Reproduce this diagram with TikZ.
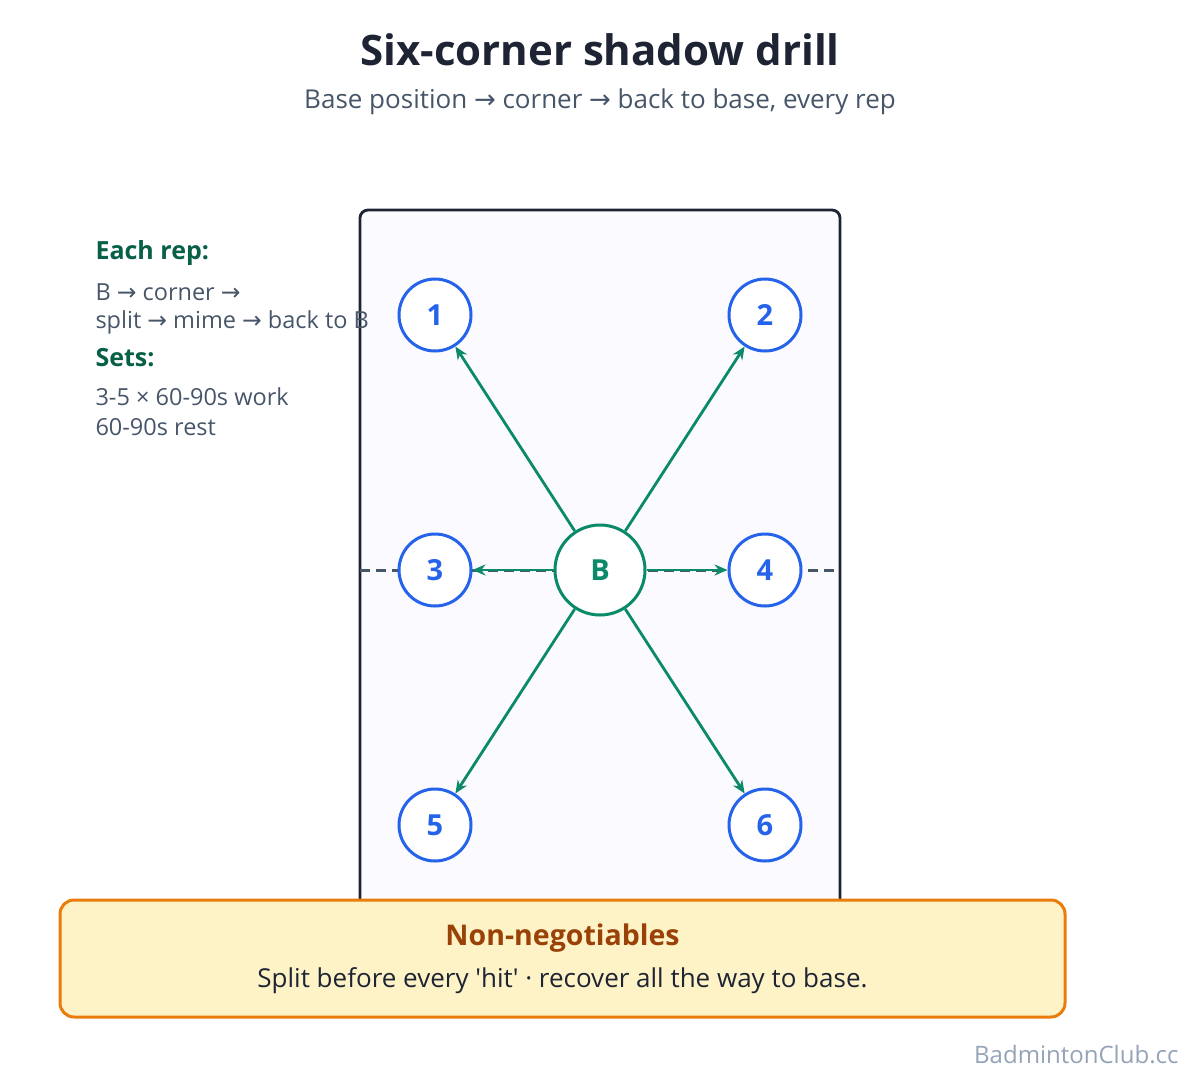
\documentclass[tikz,border=0pt]{standalone}
\usepackage{fontspec}
\setmainfont{Open Sans}
\newfontfamily\symfont{DejaVu Sans}
\usetikzlibrary{arrows.meta,positioning}
\definecolor{courtblue}{HTML}{2563EB}
\definecolor{basegreen}{HTML}{0B8A6A}
\definecolor{headgreen}{HTML}{065F46}
\definecolor{textgray}{HTML}{475569}
\definecolor{inkdark}{HTML}{1E2433}
\newcommand{\arr}{{\symfont\char"2192}}

\begin{document}
\begin{tikzpicture}[x=1pt,y=-1pt]
  \tikzset{corner/.style={draw=courtblue,line width=3pt,fill=white,circle,
                          minimum size=72pt,inner sep=0pt,text=courtblue,
                          font=\fontsize{29}{33}\selectfont\bfseries},
           move/.style={draw=basegreen,line width=2.8pt,-{Stealth[length=13pt,width=11pt]}},
           side/.style={anchor=west,text=textgray,font=\fontsize{23.5}{27}\selectfont}
          }

%%%%%%%%%%%%%%%%%%%%%%%%%%%%%%%%%%%%%%%%%%%%%%%%%%%%%%%%%%%%%%%%%%%%%%%%%%%%%%

\useasboundingbox (0,0) rectangle (1200,1080);

\node[font=\fontsize{42}{48}\selectfont\bfseries,text=inkdark] (T) at (600,50) {Six-corner shadow drill};
\node[font=\fontsize{26}{30}\selectfont,text=textgray] (ST) at (600,102) {Base position \arr{} corner \arr{} back to base, every rep};

\draw[draw=inkdark,line width=2.8pt,fill=blue!2,rounded corners=8pt] (360,930) -- (360,210) -- (840,210) -- (840,930);
\draw[draw=textgray,line width=3pt,dash pattern=on 10pt off 6pt] (360,570) -- (840,570);

\node[corner] (C1) at (435,315) {1};
\node[corner] (C2) at (765,315) {2};
\node[corner] (C3) at (435,570) {3};
\node[corner] (C4) at (765,570) {4};
\node[corner] (C5) at (435,825) {5};
\node[corner] (C6) at (765,825) {6};
\node[corner,draw=basegreen,text=basegreen,minimum size=90pt] (B) at (600,570) {B};

\foreach \c in {C1,C2,C3,C4,C5,C6}
  \draw[move] (B) -- (\c);

%%%%%%%%%%%%%%%%%%%%%%%%%%%%%%%%%%%%%%%%%%%%%%%%%%%%%%%%%%%%%%%%%%%%%%%%%%%%%%

\node[side,text=headgreen,font=\fontsize{25}{29}\selectfont\bfseries] (H1) at (92,253) {Each rep:};
\node[side] (L1) at (92,292) {B \arr{} corner \arr{}};
\node[side] (L2) at (92,322) {split \arr{} mime \arr{} back to B};
\node[side,text=headgreen,font=\fontsize{25}{29}\selectfont\bfseries] (H2) at (92,358) {Sets:};
\node[side] (L3) at (92,397) {3-5 × 60-90s work};
\node[side] (L4) at (92,427) {60-90s rest};

\node[draw={rgb,255:red,234;green,124;blue,12},line width=3pt,fill={rgb,255:red,254;green,243;blue,199},
      rounded corners=14pt,minimum width=1005pt,minimum height=117pt] (NB) at (562.5,958.5) {};
\node[font=\fontsize{28.5}{32}\selectfont\bfseries,text={rgb,255:red,154;green,65;blue,8}] (NT) at (562.5,938) {Non-negotiables};
\node[font=\fontsize{26}{30}\selectfont,text=inkdark] (NX) at (562.5,981) {Split before every \textquotesingle hit\textquotesingle{} · recover all the way to base.};

\node[anchor=east,font=\fontsize{24}{28}\selectfont,text={rgb,255:red,148;green,163;blue,184}] (W) at (1182,1055) {BadmintonClub.cc};

\end{tikzpicture}
\end{document}
